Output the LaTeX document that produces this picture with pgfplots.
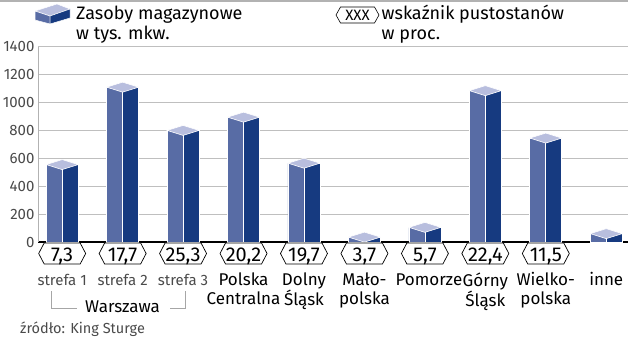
\documentclass[border=0pt]{standalone}
\usepackage{fontspec}
\setmainfont{Fira Sans}
\IfFontExistsTF{Fira Sans Book}{\newfontfamily\lightf{Fira Sans Book}}{\newfontfamily\lightf{Fira Sans}}
\usepackage{pgfplots}
\usepackage{pgfplotstable}
\pgfplotsset{compat=1.18}
\definecolor{leftc}{HTML}{586CA5}
\definecolor{rightc}{HTML}{163A80}
\definecolor{topc}{HTML}{B8BEDE}
\definecolor{tickg}{HTML}{4A4A4A}
\pgfdeclareplotmark{topface}{%
 \pgfpathmoveto{\pgfqpoint{-16pt}{0pt}}%
 \pgfpathlineto{\pgfqpoint{0pt}{5pt}}%
 \pgfpathlineto{\pgfqpoint{16pt}{0pt}}%
 \pgfpathlineto{\pgfqpoint{0pt}{-5pt}}%
 \pgfpathclose\pgfusepathqfillstroke}
\pgfdeclareplotmark{hex}{%
 \pgfpathmoveto{\pgfqpoint{-23.5pt}{-11.5pt}}%
 \pgfpathlineto{\pgfqpoint{-18pt}{-1pt}}%
 \pgfpathlineto{\pgfqpoint{18pt}{-1pt}}%
 \pgfpathlineto{\pgfqpoint{23.5pt}{-11.5pt}}%
 \pgfpathlineto{\pgfqpoint{18pt}{-22pt}}%
 \pgfpathlineto{\pgfqpoint{-18pt}{-22pt}}%
 \pgfpathclose\pgfusepathqfillstroke}
\newcommand\cl{\rule{0pt}{12.5pt}}
\newcommand\valfont{\fontsize{20}{22}\selectfont}
\newcommand\catfont{\fontsize{17}{19}\selectfont}
\newcommand\legfont{\fontsize{18}{20}\selectfont}
\newcommand\strf{\color{tickg}\lightf\fontsize{15}{17}\selectfont}
\pgfplotstableread{
x v base lab
0 555 0 {7,3}
1 1110 0 {17,7}
2 800 0 {25,3}
3 895 0 {20,2}
4 565 0 {19,7}
5 35 0 {3,7}
6 105 0 {5,7}
7 1085 0 {22,4}
8 745 0 {11,5}
9 60 0 {}
}\data
\begin{document}
\begin{tikzpicture}[x=1pt,y=1pt]
\path[use as bounding box] (0,0) rectangle (628,337);
\fill[gray!60] (0,335) rectangle (628,337);
\begin{axis}[
  at={(38pt,95pt)}, anchor=south west,
  scale only axis, width=590pt, height=195.3pt,
  xmin=-0.4, xmax=9.36, ymin=0, ymax=1400,
  axis lines*=left,
  x axis line style={-, black, line width=1.4pt},
  y axis line style={-, gray!60, line width=0.8pt},
  major tick length=0pt,
  ytick={0,200,...,1400},
  xtick={0,...,9},
  xticklabels={{\strf\cl strefa 1},{\strf\cl strefa 2},{\strf\cl strefa 3},{\cl Polska\\Centralna},{\cl Dolny\\Śląsk},{\cl Mało-\\polska},{\cl\hspace*{8pt}Pomorze},{\cl Górny\\Śląsk},{\cl Wielko-\\polska},{\cl inne}},
  xticklabel style={anchor=north, yshift=-30.5pt, inner sep=0pt, align=center, font=\catfont, text=black},
  yticklabel style={font=\lightf\fontsize{15}{17}\selectfont, text=tickg, /pgf/number format/1000 sep={}},
  /pgf/number format/assume math mode=true,
  ymajorgrids, grid style={draw=gray!50, line width=0.8pt},
  clip=false,
]
\addplot[ybar, bar width=16pt, bar shift=-8pt, fill=leftc, draw=white, line width=0.6pt] table[x=x, y=v] {\data};
\addplot[ybar, bar width=16pt, bar shift=8pt, fill=rightc, draw=white, line width=0.6pt] table[x=x, y=v] {\data};
\addplot[only marks, mark=topface, mark options={fill=topc, draw=white, line width=0.6pt}] table[x=x, y=v] {\data};
\addplot[only marks, mark=hex, mark options={fill=white, draw=black, line width=0.7pt},
  nodes near coords={\pgfplotspointmeta}, point meta=explicit symbolic,
  every node near coord/.append style={anchor=base, yshift=-19.5pt, font=\valfont, text=black, inner sep=0pt}]
  table[x=x, y=base, meta=lab] {
x base lab
0 0 {7,3}
1 0 {17,7}
2 0 {25,3}
3 0 {20,2}
4 0 {19,7}
5 0 {3,7}
6 0 {5,7}
7 0 {22,4}
8 0 {11,5}
};
\end{axis}
% legend
\fill[topc, draw=white, line width=0.5pt] (35,326)--(57,333)--(70,328)--(50,321)--cycle;
\fill[leftc, draw=white, line width=0.5pt] (35,326)--(50,321)--(50,313)--(35,317)--cycle;
\fill[rightc, draw=white, line width=0.5pt] (50,321)--(70,328)--(70,319)--(50,313)--cycle;
\node[anchor=base west, inner sep=0pt, font=\legfont] at (76,317) {Zasoby magazynowe};
\node[anchor=base west, inner sep=0pt, font=\legfont] at (76,297) {w tys. mkw.};
\draw[black, line width=0.6pt, fill=white] (336,322)--(340.5,330)--(374.5,330)--(379,322)--(374.5,314)--(340.5,314)--cycle;
\node[inner sep=0pt, font=\lightf\fontsize{15}{16}\selectfont] at (357.5,322) {XXX};
\node[anchor=base west, inner sep=0pt, font=\legfont] at (381.5,317) {wskaźnik pustostanów};
\node[anchor=base west, inner sep=0pt, font=\legfont] at (381.5,297) {w proc.};
% Warszawa bracket
\draw[gray!70, line width=0.6pt] (51.7,46)--(51.7,29)--(77,29);
\draw[gray!70, line width=0.6pt] (170,29)--(185,29)--(185,46);
\node[anchor=base, inner sep=0pt, font=\catfont] at (122.5,25) {Warszawa};
\node[anchor=base west, inner sep=0pt, font=\lightf\fontsize{14.5}{16}\selectfont, text=tickg] at (20,4) {źródło: King Sturge};
\end{tikzpicture}
\end{document}
